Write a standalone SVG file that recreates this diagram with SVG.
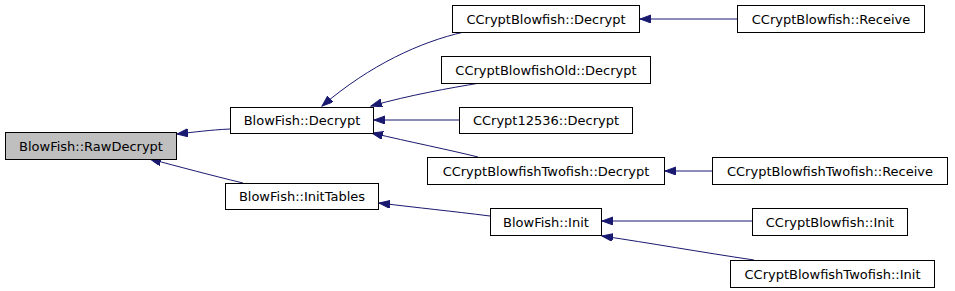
<svg xmlns="http://www.w3.org/2000/svg" width="955" height="291" viewBox="0 0 955 291">
<style>
.n rect{fill:#ffffff;stroke:#000000;stroke-width:1}
.n.hl rect{fill:#bfbfbf}
.n text{font-family:"DejaVu Sans",sans-serif;font-size:13px;fill:#000000;text-anchor:middle}
.e path{fill:none;stroke:#191970;stroke-width:1;marker-end:url(#ah)}
</style>
<defs>
<marker id="ah" markerUnits="userSpaceOnUse" markerWidth="12" markerHeight="9" refX="11" refY="4" orient="auto">
<path d="M0,0 L11,4 L0,8 z" fill="#191970" stroke="#191970" stroke-width="1"/>
</marker>
</defs>
<g id="connectors" class="e">
<path d="M230,129 C210,130 195,132 177,134"/>
<path d="M243,183 C210,175 180,167 150,159"/>
<path d="M464,32 C420,42 370,65 322,106"/>
<path d="M480,83 C450,88 410,95 371,106"/>
<path d="M459,120 L374,120"/>
<path d="M478,157 C450,150 410,142 372,133"/>
<path d="M737,19 L640,19"/>
<path d="M712,171 L665,171"/>
<path d="M490,216 C450,211 420,208 379,203"/>
<path d="M752,221 L602,221"/>
<path d="M754,260 C700,252 650,243 602,236"/>
</g>
<g id="n_rawdecrypt" class="n hl"><rect x="5.5" y="132.5" width="171" height="27"/><text x="91" y="150.5">BlowFish::RawDecrypt</text></g>
<g id="n_decrypt" class="n"><rect x="230.5" y="107.5" width="143" height="26"/><text x="302" y="125">BlowFish::Decrypt</text></g>
<g id="n_inittables" class="n"><rect x="225.5" y="183.5" width="153" height="26"/><text x="302" y="201">BlowFish::InitTables</text></g>
<g id="n_cbf_decrypt" class="n"><rect x="452.5" y="5.5" width="187" height="27"/><text x="546" y="23.5">CCryptBlowfish::Decrypt</text></g>
<g id="n_cbfold_decrypt" class="n"><rect x="441.5" y="56.5" width="209" height="27"/><text x="546" y="74.5">CCryptBlowfishOld::Decrypt</text></g>
<g id="n_c12536_decrypt" class="n"><rect x="459.5" y="107.5" width="173" height="26"/><text x="546" y="125">CCrypt12536::Decrypt</text></g>
<g id="n_cbftf_decrypt" class="n"><rect x="427.5" y="157.5" width="237" height="27"/><text x="546" y="175.5">CCryptBlowfishTwofish::Decrypt</text></g>
<g id="n_init" class="n"><rect x="490.5" y="208.5" width="111" height="27"/><text x="546" y="226.5">BlowFish::Init</text></g>
<g id="n_cbf_receive" class="n"><rect x="737.5" y="5.5" width="187" height="27"/><text x="831" y="23.5">CCryptBlowfish::Receive</text></g>
<g id="n_cbftf_receive" class="n"><rect x="712.5" y="157.5" width="235" height="27"/><text x="830" y="175.5">CCryptBlowfishTwofish::Receive</text></g>
<g id="n_cbf_init" class="n"><rect x="752.5" y="208.5" width="155" height="27"/><text x="830" y="226.5">CCryptBlowfish::Init</text></g>
<g id="n_cbftf_init" class="n"><rect x="730.5" y="260.5" width="204" height="27"/><text x="832.5" y="278.5">CCryptBlowfishTwofish::Init</text></g>
</svg>
